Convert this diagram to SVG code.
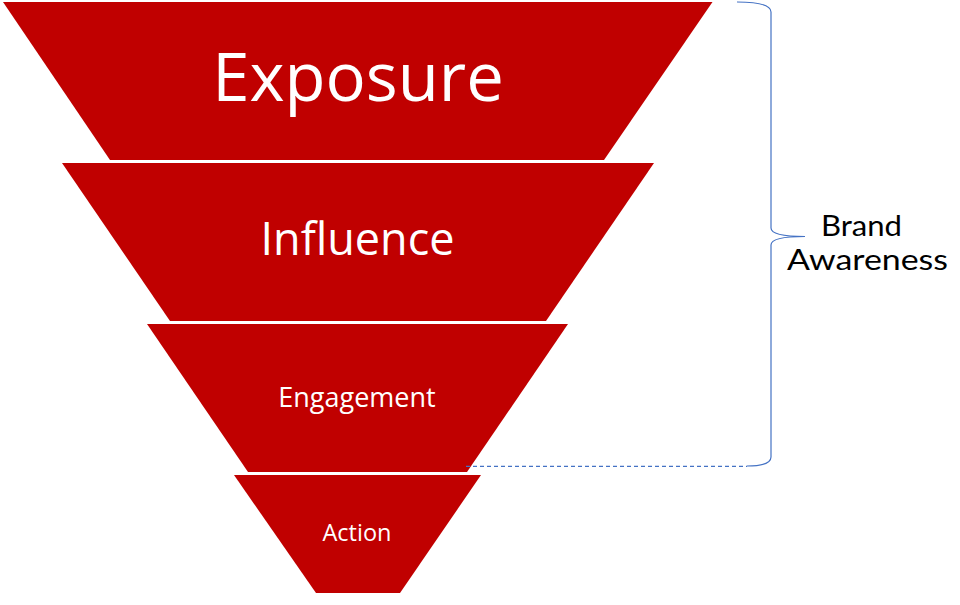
<svg xmlns="http://www.w3.org/2000/svg" width="960" height="605" viewBox="0 0 960 605">
<style>
.seg{fill:#C00000;stroke:none}
.lbl{fill:#FFFFFF;font-family:"Open Sans","Noto Sans","Liberation Sans",sans-serif;text-anchor:middle}
.side{fill:#000000;font-family:Lato,"Open Sans","Liberation Sans",sans-serif;text-anchor:middle;font-size:28px}
.brace{fill:none;stroke:#4472C4;stroke-width:1.2}
</style>
<rect width="960" height="605" fill="#FFFFFF"/>
<g id="exposure">
<polygon class="seg" points="3,2 712.5,2 604,160 110,160"/>
<text class="lbl" x="358" y="101" font-size="67">Exposure</text>
</g>
<g id="influence">
<polygon class="seg" points="62,163 654,163 546,321 170,321"/>
<text class="lbl" x="357.5" y="255" font-size="45">Influence</text>
</g>
<g id="engagement">
<polygon class="seg" points="147,324 568,324 467,472 248,472"/>
<text class="lbl" x="357" y="406.5" font-size="27">Engagement</text>
</g>
<g id="action">
<polygon class="seg" points="234,475 481,475 400,593 316,593"/>
<text class="lbl" x="357" y="540.5" font-size="23.5">Action</text>
</g>
<g id="brand-awareness">
<path class="brace" d="M737,2 Q771,2 771,12 L771,228 Q771,236.5 805,236.5 Q771,236.5 771,245 L771,457 Q771,466 747,466"/>
<text class="side" x="861.5" y="236" textLength="81" lengthAdjust="spacingAndGlyphs">Brand</text>
<text class="side" x="867.5" y="270" textLength="161" lengthAdjust="spacingAndGlyphs">Awareness</text>
</g>
<g id="connectors">
<line x1="466" y1="466.3" x2="747" y2="466.3" stroke="#4472C4" stroke-width="1.2" stroke-dasharray="4,3"/>
</g>
</svg>
